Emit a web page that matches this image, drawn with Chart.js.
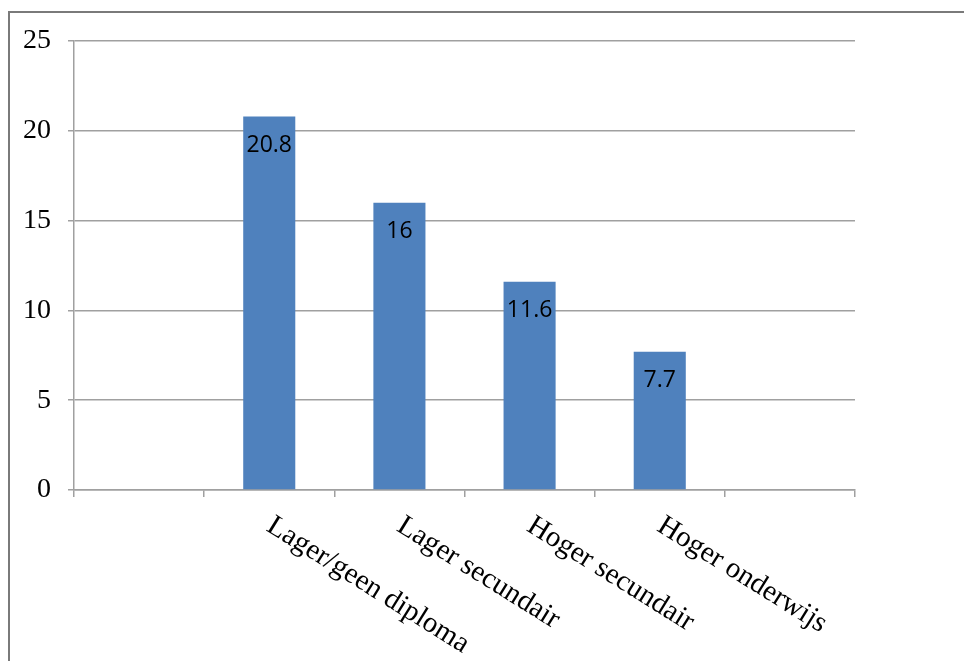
<!DOCTYPE html>
<html>
<head>
<meta charset="utf-8">
<script src="https://cdn.jsdelivr.net/npm/chart.js@4/dist/chart.umd.min.js"></script>
<style>
  html, body { margin: 0; padding: 0; background: #fff; }
  #wrap { position: relative; width: 964px; height: 661px; overflow: hidden; }
  #frame { position: absolute; left: 8px; top: 11px; right: -2px; bottom: -2px;
           border-left: 2px solid #7a7a7a; border-top: 2px solid #7a7a7a; }
  canvas { position: absolute; left: 0; top: 0; }
</style>
</head>
<body>
<div id="wrap">
  <div id="frame"></div>
  <canvas id="chart" width="964" height="661"></canvas>
</div>
<script>
// --- Data ---
const categories = ["", "Lager/geen diploma", "Lager secundair", "Hoger secundair", "Hoger onderwijs", ""];
const values = [null, 20.8, 16, 11.6, 7.7, null];
const yTicks = [0, 5, 10, 15, 20, 25];

const BAR_COLOR = "#4f81bd";
const GRID_COLOR = "#a0a0a0";
const SERIF = '"Liberation Serif", "Times New Roman", serif';

// value labels inside the top of each bar
const valueLabels = {
  id: "valueLabels",
  afterDatasetsDraw(chart) {
    const ctx = chart.ctx;
    const meta = chart.getDatasetMeta(0);
    ctx.save();
    ctx.font = '23px "Open Sans", sans-serif';
    ctx.fillStyle = "#000";
    ctx.textAlign = "center";
    ctx.textBaseline = "middle";
    meta.data.forEach((bar, i) => {
      const v = values[i];
      if (v == null) return;
      ctx.fillText(String(v), bar.x, bar.y + 29);
    });
    ctx.restore();
  }
};

// slanted category labels, starting at the category centre and running down-right
const slantLabels = {
  id: "slantLabels",
  afterDraw(chart) {
    const ctx = chart.ctx;
    const xs = chart.scales.x;
    ctx.save();
    ctx.font = "29px " + SERIF;
    ctx.fillStyle = "#000";
    ctx.textAlign = "left";
    ctx.textBaseline = "alphabetic";
    categories.forEach((c, i) => {
      if (!c) return;
      const x = xs.getPixelForValue(i) - 4;
      ctx.save();
      ctx.translate(x, chart.chartArea.bottom + 40);
      ctx.rotate(32 * Math.PI / 180);
      ctx.fillText(c, 0, 0);
      ctx.restore();
    });
    ctx.restore();
  }
};

new Chart(document.getElementById("chart"), {
  type: "bar",
  data: {
    labels: categories,
    datasets: [{
      data: values,
      backgroundColor: BAR_COLOR,
      borderWidth: 0,
      categoryPercentage: 1,
      barPercentage: 0.4
    }]
  },
  options: {
    responsive: false,
    animation: false,
    layout: { padding: { left: 0, top: 41, right: 109, bottom: 0 } },
    plugins: { legend: { display: false }, tooltip: { enabled: false } },
    scales: {
      x: {
        offset: true,
        grid: { offset: true, drawOnChartArea: false, drawTicks: true, tickLength: 7, color: GRID_COLOR, lineWidth: 1.5 },
        border: { color: GRID_COLOR, width: 1.5 },
        ticks: { display: false },
        afterFit(scale) { scale.height = 171; }
      },
      y: {
        min: 0,
        max: 25,
        afterBuildTicks(scale) { scale.ticks = yTicks.map(v => ({ value: v })); },
        grid: { color: GRID_COLOR, tickLength: 6, lineWidth: 1.5 },
        border: { color: GRID_COLOR, width: 1.5 },
        ticks: { padding: 17, color: "#000", font: { family: SERIF, size: 28 } },
        afterFit(scale) { scale.width = 74; }
      }
    }
  },
  plugins: [valueLabels, slantLabels]
});
</script>
</body>
</html>
